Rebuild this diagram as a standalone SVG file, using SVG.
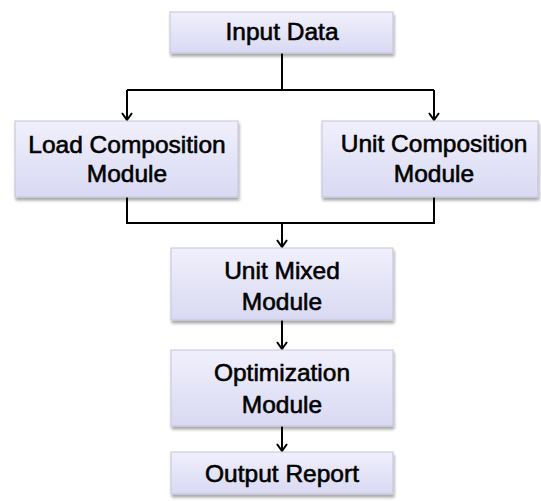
<svg xmlns="http://www.w3.org/2000/svg" width="541" height="501" viewBox="0 0 541 501">
  <style>
    .box { fill: url(#boxFill); stroke: #c3c3dc; stroke-width: 1; filter: url(#shadow); }
    .label { font-family: "Liberation Sans", Arial, sans-serif; font-size: 24.5px; fill: #000; stroke: #000; stroke-width: 0.6; text-anchor: middle; }
    .wire { fill: none; stroke: #000; stroke-width: 2; }
  </style>
  <defs>
    <linearGradient id="boxFill" x1="0" y1="0" x2="0" y2="1">
      <stop offset="0" stop-color="#f0f0fc"/>
      <stop offset="1" stop-color="#d9d9f3"/>
    </linearGradient>
    <filter id="shadow" x="-5%" y="-10%" width="115%" height="130%">
      <feGaussianBlur in="SourceAlpha" stdDeviation="1.5"/>
      <feOffset dx="1" dy="2.5" result="blur"/>
      <feComponentTransfer><feFuncA type="linear" slope="0.35"/></feComponentTransfer>
      <feMerge><feMergeNode/><feMergeNode in="SourceGraphic"/></feMerge>
    </filter>
    <!-- open chevron head, drawn pointing along +x so orient="auto" follows the line -->
    <marker id="arrow" viewBox="0 0 10 12" refX="9" refY="6" markerWidth="10" markerHeight="12" markerUnits="userSpaceOnUse" orient="auto">
      <polyline points="2,1 9,6 2,11" fill="none" stroke="#000" stroke-width="2"/>
    </marker>
  </defs>

  <!-- connectors -->
  <g id="connectors">
    <path class="wire" d="M282 53 V90"/>
    <path class="wire" d="M127 90 H434"/>
    <path class="wire" d="M127 90 V120" marker-end="url(#arrow)"/>
    <path class="wire" d="M434 90 V120" marker-end="url(#arrow)"/>
    <path class="wire" d="M127 197 V223 H434 V197"/>
    <path class="wire" d="M282 223 V247" marker-end="url(#arrow)"/>
    <path class="wire" d="M282 320 V349" marker-end="url(#arrow)"/>
    <path class="wire" d="M282 426 V451" marker-end="url(#arrow)"/>
  </g>

  <g id="input-data">
    <rect class="box" x="170" y="12" width="223" height="41"/>
    <text class="label" x="282" y="40">Input Data</text>
  </g>

  <g id="load-composition">
    <rect class="box" x="15" y="121" width="223" height="76"/>
    <text class="label" x="127" y="153">Load Composition</text>
    <text class="label" x="127" y="182">Module</text>
  </g>

  <g id="unit-composition">
    <rect class="box" x="322" y="121" width="216" height="76"/>
    <text class="label" x="434" y="152">Unit Composition</text>
    <text class="label" x="434" y="182">Module</text>
  </g>

  <g id="unit-mixed">
    <rect class="box" x="171" y="248" width="222" height="72"/>
    <text class="label" x="282" y="279">Unit Mixed</text>
    <text class="label" x="282" y="310">Module</text>
  </g>

  <g id="optimization">
    <rect class="box" x="171" y="350" width="222" height="76"/>
    <text class="label" x="282" y="381">Optimization</text>
    <text class="label" x="282" y="413">Module</text>
  </g>

  <g id="output-report">
    <rect class="box" x="171" y="452" width="222" height="42"/>
    <text class="label" x="282" y="482">Output Report</text>
  </g>
</svg>
